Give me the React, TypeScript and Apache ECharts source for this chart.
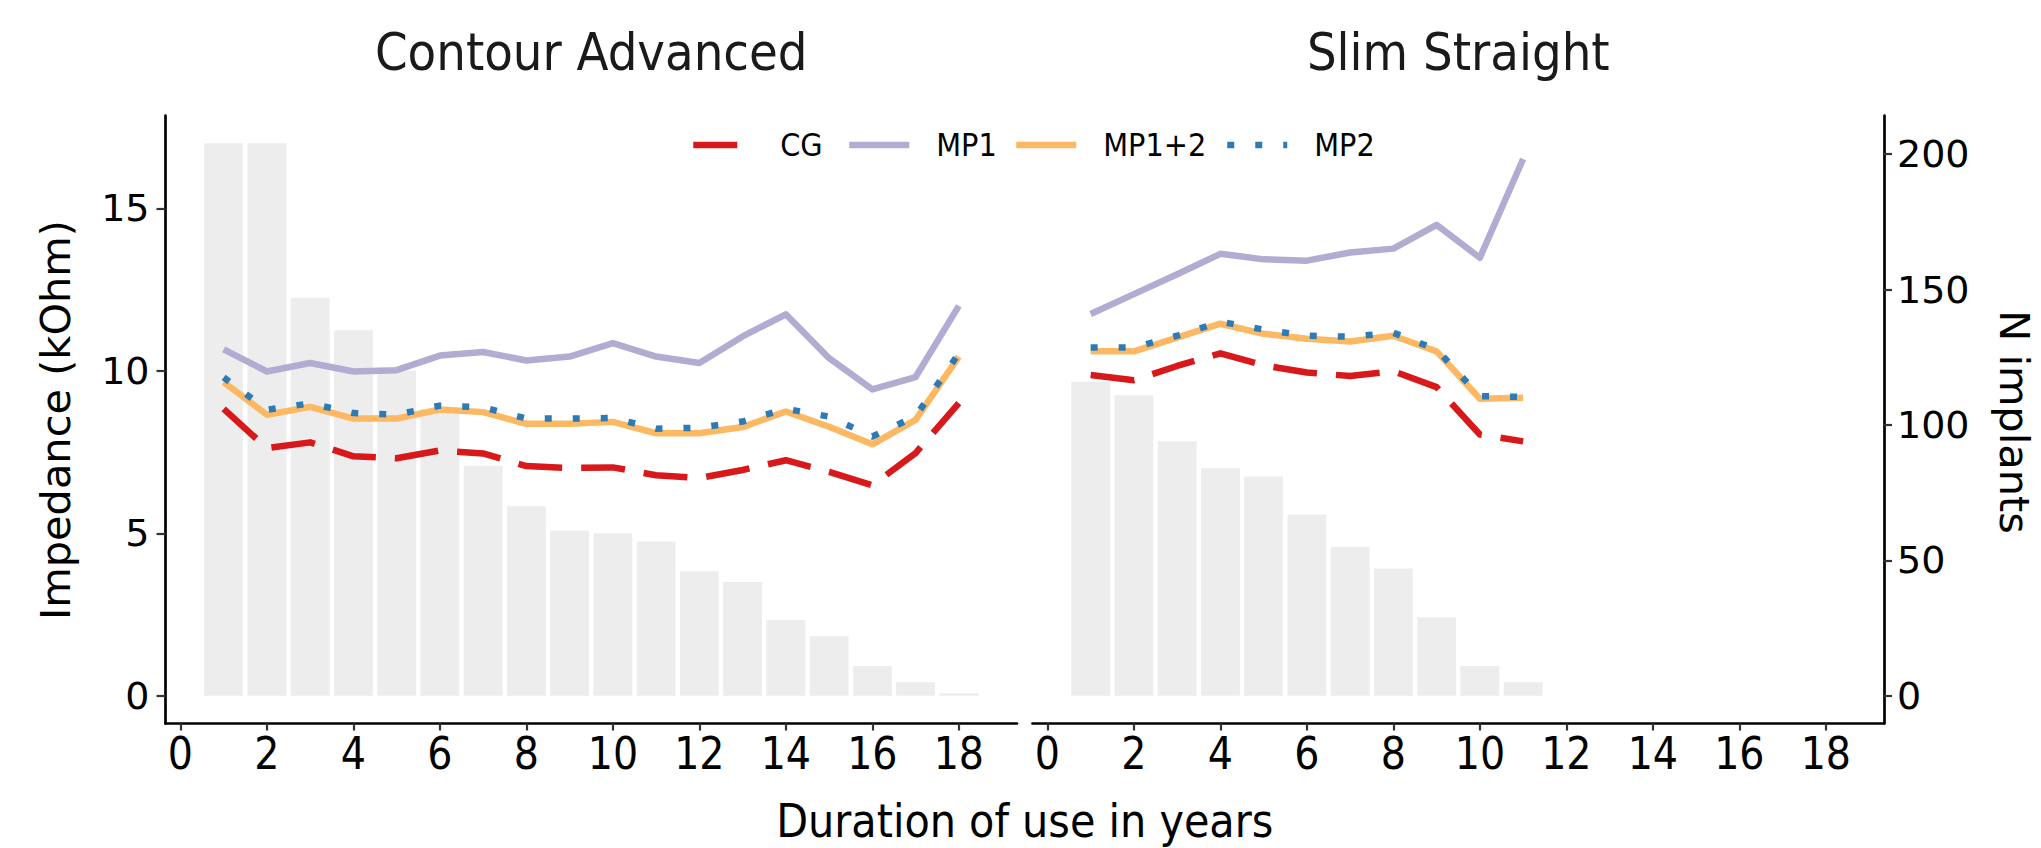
import React, { useEffect, useRef } from "react";
import * as echarts from "echarts";

// ---------- data ----------
const YEARS_CA = [1, 2, 3, 4, 5, 6, 7, 8, 9, 10, 11, 12, 13, 14, 15, 16, 17, 18];
const YEARS_SS = [1, 2, 3, 4, 5, 6, 7, 8, 9, 10, 11];

// number of implants (bars, right axis)
const N_CA = [204, 204, 147, 135, 120, 106, 85, 70, 61, 60, 57, 46, 42, 28, 22, 11, 5, 1];
const N_SS = [116, 111, 94, 84, 81, 67, 55, 47, 29, 11, 5];

// impedance (kOhm), Contour Advanced
const CG_CA = [8.83, 7.62, 7.8, 7.37, 7.31, 7.55, 7.46, 7.07, 7.01, 7.03, 6.79, 6.7, 6.95, 7.25, 6.89, 6.48, 7.47, 9.01];
const MP1_CA = [10.66, 9.98, 10.24, 9.98, 10.02, 10.47, 10.58, 10.32, 10.44, 10.85, 10.44, 10.24, 11.06, 11.74, 10.39, 9.43, 9.81, 12.0];
const MP12_CA = [9.65, 8.65, 8.89, 8.53, 8.53, 8.81, 8.73, 8.37, 8.37, 8.43, 8.08, 8.08, 8.27, 8.75, 8.28, 7.74, 8.49, 10.44];
const MP2_CA = [9.8, 8.8, 9.0, 8.7, 8.65, 8.93, 8.88, 8.53, 8.53, 8.55, 8.22, 8.25, 8.44, 8.83, 8.59, 7.98, 8.6, 10.54];

// impedance (kOhm), Slim Straight
const CG_SS = [9.87, 9.71, 10.15, 10.54, 10.17, 9.95, 9.84, 9.99, 9.5, 8.04, 7.83];
const MP1_SS = [11.75, 12.36, 12.97, 13.6, 13.43, 13.39, 13.64, 13.76, 14.49, 13.48, 16.52];
const MP12_SS = [10.6, 10.6, 11.02, 11.45, 11.14, 10.99, 10.9, 11.08, 10.6, 9.14, 9.17];
const MP2_SS = [10.72, 10.72, 11.08, 11.51, 11.27, 11.08, 11.05, 11.17, 10.66, 9.22, 9.2];

const PANEL_TITLES = ["Contour Advanced", "Slim Straight"];
const SERIES_NAMES = ["CG", "MP1", "MP1+2", "MP2"];
const X_TICKS = [0, 2, 4, 6, 8, 10, 12, 14, 16, 18];
const Y_TICKS = [0, 5, 10, 15];
const N_TICKS = [0, 50, 100, 150, 200];
const N_PER_KOHM = 12; // secondary axis factor

// ---------- layout / style ----------
const W = 2041;
const H = 848;
const X_MIN = -0.345;
const X_MAX = 19.345;
const Y_MIN = -0.85;
const Y_MAX = 17.85;
const GRID_TOP = 115.7;
const GRID_H = 607.8;
const GRID_W = 851.5;
const GRID_LEFT = [165.5, 1032.5];
const BAR_FRACTION = 0.9;
const LEGEND_LEFTS = [690, 846, 1013, 1224];

const DIN = "'DejaVu Sans Condensed', 'Liberation Sans Narrow', 'DejaVu Sans', sans-serif";
const HELV = "'DejaVu Sans', sans-serif";

const COLORS: Record<string, string> = {
  CG: "#D7191C",
  MP1: "#B2ABD2",
  "MP1+2": "#FDB863",
  MP2: "#2C7BB6",
};
const DASH: Record<string, any> = {
  CG: [44, 19],
  MP1: "solid",
  "MP1+2": "solid",
  MP2: [7, 21],
};
const LINE_W = 6.5;

function pairs(xs: number[], ys: number[]) {
  return xs.map((x, i) => [x, ys[i]]);
}

function buildOption() {
  const barWidth = (GRID_W / (X_MAX - X_MIN)) * BAR_FRACTION;
  const panels = [
    { years: YEARS_CA, n: N_CA, lines: [CG_CA, MP1_CA, MP12_CA, MP2_CA] },
    { years: YEARS_SS, n: N_SS, lines: [CG_SS, MP1_SS, MP12_SS, MP2_SS] },
  ];

  const grid = GRID_LEFT.map((left) => ({ left, top: GRID_TOP, width: GRID_W, height: GRID_H }));

  const xAxis = [0, 1].map((g) => ({
    type: "value",
    gridIndex: g,
    min: X_MIN,
    max: X_MAX,
    axisLine: { show: true, onZero: false, lineStyle: { color: "#000", width: 2.7 } },
    axisTick: { show: true, customValues: X_TICKS, length: 7, lineStyle: { color: "#333", width: 2.2 } },
    axisLabel: { show: true, customValues: X_TICKS, fontSize: 44, fontFamily: DIN, color: "#000", margin: 8 },
    splitLine: { show: false },
  }));

  const yAxis: any[] = [
    {
      type: "value", gridIndex: 0, min: Y_MIN, max: Y_MAX, position: "left",
      axisLine: { show: true, onZero: false, lineStyle: { color: "#000", width: 2.7 } },
      axisTick: { show: true, customValues: Y_TICKS, length: 9, lineStyle: { color: "#333", width: 2.2 } },
      axisLabel: { show: true, customValues: Y_TICKS, fontSize: 38, fontFamily: HELV, color: "#000", margin: 16 },
      splitLine: { show: false },
    },
    { type: "value", gridIndex: 0, min: Y_MIN * N_PER_KOHM, max: Y_MAX * N_PER_KOHM, show: false, splitLine: { show: false } },
    {
      type: "value", gridIndex: 1, min: Y_MIN * N_PER_KOHM, max: Y_MAX * N_PER_KOHM, position: "right",
      axisLine: { show: true, onZero: false, lineStyle: { color: "#000", width: 2.7 } },
      axisTick: { show: true, customValues: N_TICKS, length: 8, lineStyle: { color: "#333", width: 2.2 } },
      axisLabel: { show: true, customValues: N_TICKS, fontSize: 38, fontFamily: HELV, color: "#000", margin: 13 },
      splitLine: { show: false },
    },
    { type: "value", gridIndex: 1, min: Y_MIN, max: Y_MAX, show: false, splitLine: { show: false } },
  ];

  const series: any[] = [];
  panels.forEach((p, g) => {
    series.push({
      type: "bar",
      name: "N",
      xAxisIndex: g,
      yAxisIndex: g === 0 ? 1 : 2,
      data: pairs(p.years, p.n),
      barWidth,
      itemStyle: { color: "#EDEDED" },
      silent: true,
      z: 1,
    });
    p.lines.forEach((vals, i) => {
      const name = SERIES_NAMES[i];
      series.push({
        type: "line",
        name,
        xAxisIndex: g,
        yAxisIndex: g === 0 ? 0 : 3,
        data: pairs(p.years, vals),
        symbol: "none",
        showSymbol: false,
        lineStyle: { color: COLORS[name], width: LINE_W, type: DASH[name], cap: "butt", join: "round" },
        itemStyle: { color: COLORS[name] },
        z: 2 + i,
      });
    });
  });

  const graphic: any[] = [
    {
      type: "text", x: GRID_LEFT[0] + GRID_W / 2, y: 52,
      style: { text: PANEL_TITLES[0], fontSize: 52, fontFamily: DIN, fill: "#1A1A1A", align: "center", verticalAlign: "middle" },
    },
    {
      type: "text", x: GRID_LEFT[1] + GRID_W / 2, y: 52,
      style: { text: PANEL_TITLES[1], fontSize: 52, fontFamily: DIN, fill: "#1A1A1A", align: "center", verticalAlign: "middle" },
    },
    {
      type: "text", x: (GRID_LEFT[0] + GRID_LEFT[1] + GRID_W) / 2, y: 821,
      style: { text: "Duration of use in years", fontSize: 46, fontFamily: DIN, fill: "#000", align: "center", verticalAlign: "middle" },
    },
    {
      type: "text", x: 55, y: 420, rotation: Math.PI / 2,
      style: { text: "Impedance (kOhm)", fontSize: 41.5, fontFamily: HELV, fill: "#000", align: "center", verticalAlign: "middle" },
    },
    {
      type: "text", x: 2014, y: 422, rotation: -Math.PI / 2,
      style: { text: "N implants", fontSize: 41.5, fontFamily: HELV, fill: "#000", align: "center", verticalAlign: "middle" },
    },
  ];

  const legend = SERIES_NAMES.map((name, i) => ({
    data: [name],
    left: LEGEND_LEFTS[i],
    top: 129,
    padding: 0,
    orient: "horizontal",
    itemWidth: 60,
    itemHeight: 14,
    selectedMode: false,
    itemStyle: { opacity: 0 },
    lineStyle: { width: LINE_W, type: "inherit" },
    textStyle: { fontSize: 32, fontFamily: DIN, color: "#000", padding: [0, 0, 0, 22] },
  }));

  return {
    animation: false,
    backgroundColor: "#FFFFFF",
    grid,
    xAxis,
    yAxis,
    series,
    graphic,
    legend,
  };
}

export default function App() {
  const ref = useRef<HTMLDivElement>(null);
  useEffect(() => {
    if (!ref.current) return;
    const chart = echarts.init(ref.current, null, { renderer: "svg" });
    chart.setOption(buildOption() as any);
    return () => chart.dispose();
  }, []);
  return (
    <div
      ref={ref}
      style={{ position: "fixed", left: 0, top: 0, width: W, height: H, background: "#fff" }}
    />
  );
}
